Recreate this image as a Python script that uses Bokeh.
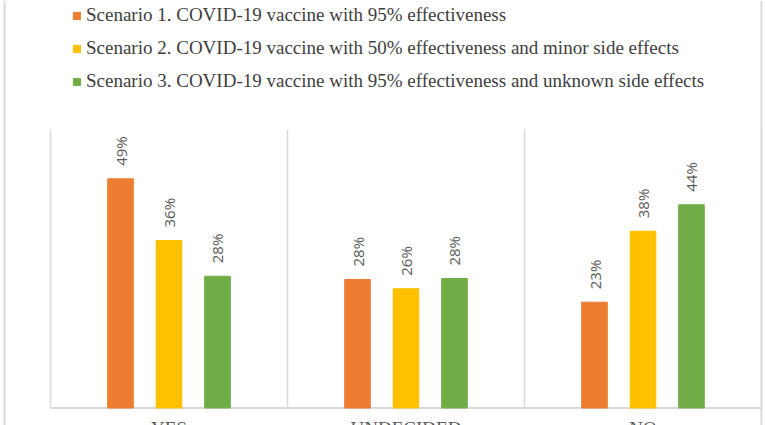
import math
from bokeh.plotting import figure
from bokeh.models import Range1d, ColumnDataSource, Span, Legend, LegendItem
from bokeh.transform import dodge
from bokeh.core.properties import value
from bokeh.embed import file_html
from bokeh.resources import INLINE

# ---------------- data ----------------
categories = ["YES", "UNDECIDED", "NO"]
scenario_names = [
    "Scenario 1. COVID-19 vaccine with 95% effectiveness",
    "Scenario 2. COVID-19 vaccine with 50% effectiveness and minor side effects",
    "Scenario 3. COVID-19 vaccine with 95% effectiveness and unknown side effects",
]
scenario1 = [49.4, 27.7, 22.8]
scenario2 = [36.1, 25.7, 38.1]
scenario3 = [28.4, 27.9, 43.8]
y_max = 60

# ---------------- styling / layout ----------------
colors = ["#ED7D31", "#FFC000", "#70AD47"]
grid_color = "#d9d9d9"
SERIF = "Liberation Serif"
PX_X = 237.0   # pixels per category
PX_Y = 4.64    # pixels per percent
FIG_W, FIG_H = 765, 425
LEFT_PAD, RIGHT_PAD = 50, 4
BOTTOM_PAD = 17.5

n = len(categories)
x_range = Range1d(-LEFT_PAD / PX_X, n + RIGHT_PAD / PX_X)
y_range = Range1d(-BOTTOM_PAD / PX_Y, (FIG_H - BOTTOM_PAD) / PX_Y)

p = figure(width=FIG_W, height=FIG_H, x_range=x_range, y_range=y_range,
           output_backend="svg", toolbar_location=None,
           x_axis_location=None, y_axis_location=None, min_border=0)
p.grid.visible = False
p.outline_line_color = None
p.background_fill_color = "white"
p.border_fill_color = "white"

cat_x = [i + 0.5 for i in range(n)]
series = [scenario1, scenario2, scenario3]
offsets = [-0.2046, 0.0, 0.2046]
bar_w = 0.108

# separators / category borders
p.segment(x0=list(range(n + 1)), x1=list(range(n + 1)),
          y0=[0] * (n + 1), y1=[y_max] * (n + 1),
          line_color=grid_color, line_width=1.5)
# baseline
p.segment(x0=[0], x1=[n], y0=[0], y1=[0], line_color=grid_color, line_width=1.8)
# outer borders
p.add_layout(Span(location=n, dimension="height", line_color=grid_color, line_width=2))
p.add_layout(Span(location=x_range.start + 4.0 / PX_X, dimension="height",
                  line_color=grid_color, line_width=2))

items = []
for vals, off, col, name in zip(series, offsets, colors, scenario_names):
    src = ColumnDataSource(dict(x=cat_x, v=vals,
                                lab=[f"{round(v)}%" for v in vals]))
    r = p.vbar(x=dodge("x", off, range=p.x_range), top="v", bottom=0, width=bar_w,
               source=src, fill_color=col, line_color=col)
    p.text(x=dodge("x", off, range=p.x_range), y="v", text="lab", source=src,
           angle=math.pi / 2, text_align="left", text_baseline="middle",
           y_offset=-13, text_font=value("Open Sans"), text_font_size="15px",
           text_color="#595959")
    items.append(LegendItem(label=name, renderers=[r]))

# category labels (cut by the bottom edge as in the source)
cat_src = ColumnDataSource(dict(x=cat_x, c=categories))
p.text(x="x", y=0, text="c", source=cat_src, text_align="center",
       text_baseline="top", y_offset=10, text_font=value(SERIF),
       text_font_size="19px", text_color="#595959")

legend = Legend(items=items, location=(72, 333), orientation="vertical",
                glyph_width=9, glyph_height=9, label_standoff=5, spacing=11,
                padding=0, margin=0, border_line_color=None,
                background_fill_alpha=0, label_text_font=SERIF,
                label_text_font_size="19px", label_text_color="#404040")
p.add_layout(legend)

open("out.html", "w").write(file_html(p, INLINE))
